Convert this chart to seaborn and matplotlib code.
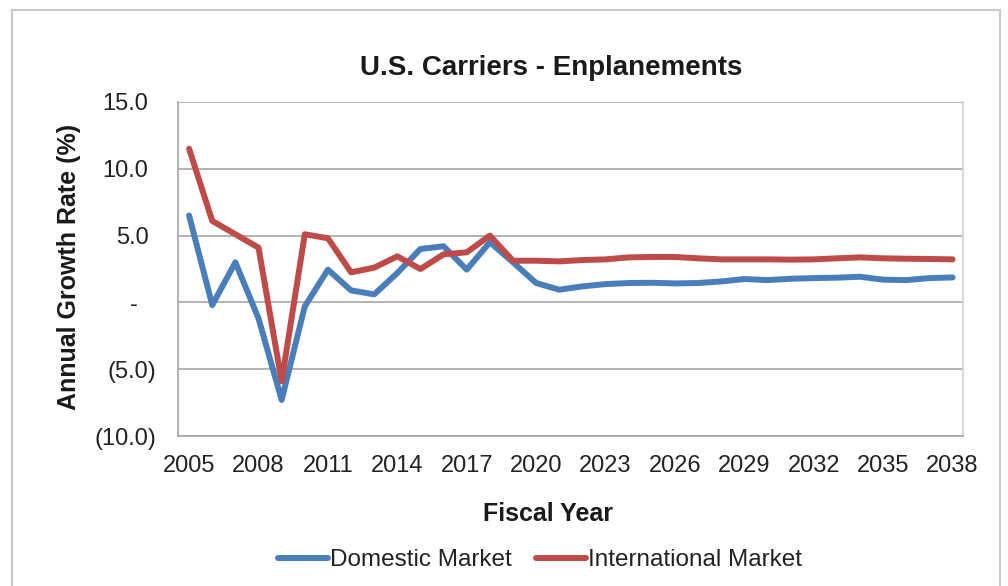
import matplotlib
matplotlib.use("Agg")
import matplotlib.pyplot as plt
import matplotlib.transforms as mtransforms
import seaborn as sns
import pandas as pd
import numpy as np
from matplotlib.patches import Rectangle

years = list(range(2005, 2039))
domestic = [6.5, -0.2, 3.0, -1.2, -7.3, -0.3, 2.45, 0.9, 0.6, 2.2, 4.0, 4.2, 2.45, 4.5,
            3.0, 1.45, 0.95, 1.2, 1.37, 1.45, 1.47, 1.42, 1.45, 1.57, 1.75, 1.67, 1.77,
            1.82, 1.85, 1.92, 1.7, 1.67, 1.82, 1.87]
international = [11.5, 6.1, 5.1, 4.1, -5.9, 5.1, 4.8, 2.25, 2.6, 3.45, 2.5, 3.6, 3.75, 5.0,
                 3.12, 3.12, 3.07, 3.17, 3.22, 3.37, 3.4, 3.4, 3.3, 3.22, 3.22, 3.22, 3.2,
                 3.22, 3.3, 3.37, 3.3, 3.27, 3.25, 3.22]
series_names = ["Domestic Market", "International Market"]
colors = ["#4A7EBB", "#BE4B48"]
x_ticks = list(range(2005, 2039, 3))
y_ticks = [-10, -5, 0, 5, 10, 15]
y_tick_labels = ["(10.0)", "(5.0)", "-", "5.0", "10.0", "15.0"]

df = pd.DataFrame({
    "Fiscal Year": years * 2,
    "value": domestic + international,
    "series": [series_names[0]] * len(years) + [series_names[1]] * len(years),
})

sns.set_style("white")
plt.rcParams['font.family'] = ['Liberation Sans', 'DejaVu Sans']

W, H = 1008, 586
fig = plt.figure(figsize=(W / 100, H / 100), dpi=100)
ax = fig.add_axes([178 / W, 1 - 436 / H, 785 / W, 334 / H])

# outer chart frame
fig.patches.append(Rectangle((12 / W, -0.01), 988 / W, 1 - 10 / H + 0.01,
                             transform=fig.transFigure, fill=False,
                             edgecolor="#c8c8c8", linewidth=1.5))

sns.lineplot(data=df, x="Fiscal Year", y="value", hue="series", palette=colors,
             linewidth=4.3, ax=ax, legend=False)

ax.set_xlim(2004.52, 2038.45)
ax.set_ylim(-10, 15)
ax.set_xticks(x_ticks)
ax.set_xticklabels([str(y) for y in x_ticks], fontsize=17, color="#222222")
ax.set_yticks(y_ticks)
ax.set_yticklabels(y_tick_labels, fontsize=17, color="#222222")
ax.tick_params(axis="y", length=6.5, color="#9a9a9a", width=1.2, pad=9.4)
ax.tick_params(axis="x", length=0, pad=14)

# Excel-style number alignment: positives leave room for ")", dash sits further left
for lab in ax.get_yticklabels():
    txt = lab.get_text()
    if txt.startswith("("):
        continue
    shift = 18 if txt == "-" else 7.5
    lab.set_transform(lab.get_transform() +
                      mtransforms.ScaledTranslation(-shift / 100, 0, fig.dpi_scale_trans))

ax.grid(axis="y", color="#a6a6a6", linewidth=1.2)
ax.set_axisbelow(True)
for side in ["left", "bottom", "right"]:
    ax.spines[side].set_color("#a6a6a6")
    ax.spines[side].set_linewidth(1.2)
ax.spines["right"].set_color("#d0d0d0")
ax.spines["top"].set_visible(False)

ax.set_title("U.S. Carriers - Enplanements", fontsize=20, fontweight="bold",
             x=(551 - 178) / 785, pad=19.5, color="#1a1a1a")
ax.set_xlabel("Fiscal Year", fontsize=18, fontweight="bold", color="#1a1a1a")
ax.xaxis.set_label_coords((548 - 178) / 785, (436 - 502) / 334)
ax.set_ylabel("Annual Growth Rate (%)", fontsize=18, fontweight="bold", color="#1a1a1a")
ax.yaxis.set_label_coords((81 - 178) / 785, (436 - 267) / 334)

handles = [plt.Line2D([0], [0], color=c, linewidth=4.3) for c in colors]
fig.legend(handles, series_names, loc="center", bbox_to_anchor=(540 / W, 1 - 560 / H),
           ncol=2, frameon=False, fontsize=17.5, handlelength=2.05, handletextpad=0.1,
           columnspacing=1.0, labelcolor="#222222")

fig.savefig("out.png", dpi=100, facecolor="white")
